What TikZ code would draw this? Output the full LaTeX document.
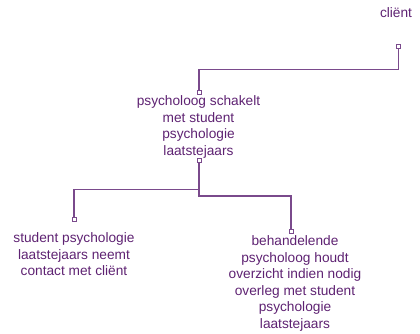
\documentclass[tikz,border=0pt]{standalone}
\usepackage{fontspec}
\setmainfont{Liberation Sans}
\usetikzlibrary{calc}
\definecolor{txt}{HTML}{5E2272}
\definecolor{ln}{HTML}{7A4A8C}
\begin{document}
\begin{tikzpicture}[x=1pt,y=-1pt,
  lbl/.style={text=txt,align=center,inner sep=0pt,font=\fontsize{13.7}{16.5}\selectfont},
  sq/.style={draw=ln,fill=white,line width=0.9pt,minimum size=4pt,inner sep=0pt},
  conn/.style={draw=ln,line width=1.3pt}]
\useasboundingbox (0,0) rectangle (420,333);
\node[lbl] (client) at (396,13) {cliënt};
\node[sq] (s1) at (398.5,46.5) {};
\node[sq] (s2) at (199,92) {};
\node[lbl] (mid) at (198.5,127) {psycholoog schakelt\\met student\\psychologie\\laatstejaars};
\node[sq] (s3) at (199,160.5) {};
\node[sq] (s4) at (74,219) {};
\node[sq] (s5) at (291,231.5) {};
\node[lbl] (left) at (74,254.5) {student psychologie\\laatstejaars neemt\\contact met cliënt};
\node[lbl] (right) at (295,283.5) {behandelende\\psycholoog houdt\\overzicht indien nodig\\overleg met student\\psychologie\\laatstejaars};
\draw[conn] (s1.south) |- ($(s1)!0.5!(s2)$) -| (s2.north);
\draw[conn] (s3.south) |- ($(s3)!0.5!(s4)$) -| (s4.north);
\draw[conn] (s3.south) |- ($(s3)!0.5!(s5)$) -| (s5.north);
\end{tikzpicture}
\end{document}
